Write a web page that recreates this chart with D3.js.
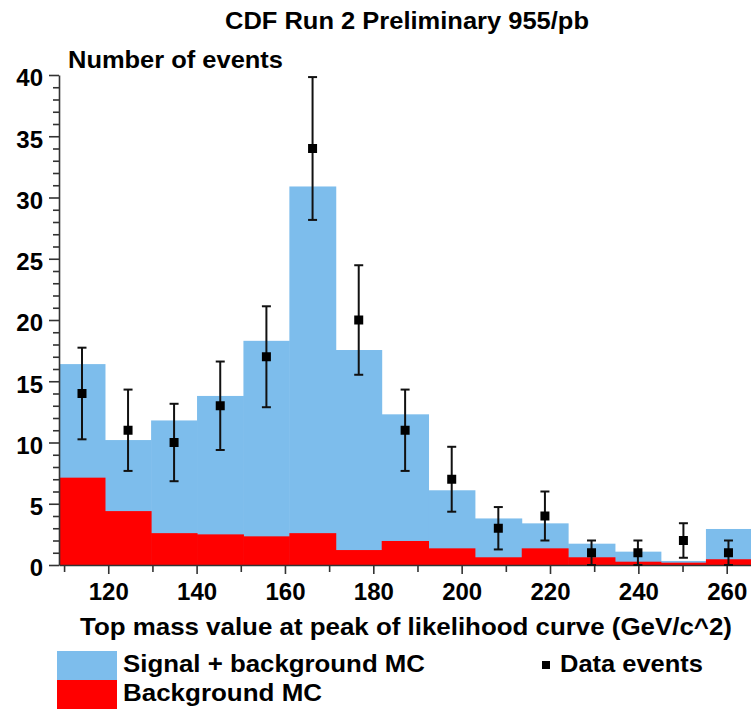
<!DOCTYPE html>
<html>
<head>
<meta charset="utf-8">
<script src="https://cdn.jsdelivr.net/npm/d3@7"></script>
<style>
  html, body { margin: 0; padding: 0; background: #fff; }
  svg { display: block; }
  text { font-family: "Liberation Sans", Arial, Helvetica, sans-serif; font-weight: bold; fill: #000; }
</style>
</head>
<body>
<div id="chart"></div>
<script>
// Histogram bin edges in top mass (GeV/c^2)
const binEdges = [108.85, 119.26, 129.7, 140.1, 150.6, 161.0, 171.5, 181.9, 192.5, 203.0, 213.6, 224.1, 234.7, 245.1, 255.3, 265.5];
// Signal + background MC expectation per bin
const signalPlusBkg = [16.4, 10.2, 11.8, 13.8, 18.3, 30.9, 17.55, 12.3, 6.1, 3.8, 3.4, 1.74, 1.09, 0.33, 2.94];
// Background MC expectation per bin
const backgroundMC = [7.13, 4.4, 2.6, 2.5, 2.34, 2.6, 1.22, 1.96, 1.36, 0.63, 1.36, 0.63, 0.27, 0.19, 0.47];
// Observed data events per bin and their uncertainties
const dataEvents = [14, 11, 10, 13, 17, 34, 20, 11, 7, 3, 4, 1, 1, 2, 1];
const dataErrors = [3.74, 3.32, 3.16, 3.61, 4.12, 5.83, 4.47, 3.32, 2.65, 1.73, 2.0, 1.0, 1.0, 1.41, 1.0];
// Axis ticks
const xMajorTicks = [120, 140, 160, 180, 200, 220, 240, 260];
const xMinorTicks = [110, 130, 150, 170, 190, 210, 230, 250];
const yMajorTicks = [0, 5, 10, 15, 20, 25, 30, 35, 40];
const yMinorTicks = d3.range(0, 41).filter(v => v % 5 !== 0);

const W = 751, H = 709;
const plot = { left: 59, right: 751, top: 75, bottom: 565 };

const svg = d3.select("#chart").append("svg")
  .attr("width", W).attr("height", H);

const x = d3.scaleLinear().domain([binEdges[0], binEdges[binEdges.length - 1]]).range([plot.left, plot.right]);
const y = d3.scaleLinear().domain([0, 40]).range([plot.bottom, plot.top]);

const bins = signalPlusBkg.map((v, i) => ({
  x0: binEdges[i], x1: binEdges[i + 1], total: v, bkg: backgroundMC[i],
  data: dataEvents[i], err: dataErrors[i]
}));

const blue = "#7dbdec", red = "#ff0000";

// Stacked MC histograms
svg.append("g").selectAll("rect").data(bins).join("rect")
  .attr("x", d => x(d.x0)).attr("width", d => x(d.x1) - x(d.x0) + 0.5)
  .attr("y", d => y(d.total)).attr("height", d => y(0) - y(d.total))
  .attr("fill", blue);
svg.append("g").selectAll("rect").data(bins).join("rect")
  .attr("x", d => x(d.x0)).attr("width", d => x(d.x1) - x(d.x0) + 0.5)
  .attr("y", d => y(d.bkg)).attr("height", d => y(0) - y(d.bkg))
  .attr("fill", red);

// Axes
const axisColor = "#333";
const yAxisMajor = svg.append("g").attr("transform", `translate(${plot.left},0)`)
  .call(d3.axisLeft(y).tickValues(yMajorTicks).tickSize(10).tickSizeOuter(0).tickPadding(6));
const yAxisMinor = svg.append("g").attr("transform", `translate(${plot.left},0)`)
  .call(d3.axisLeft(y).tickValues(yMinorTicks).tickSize(6).tickSizeOuter(0).tickFormat(""));
yAxisMinor.select(".domain").remove();
const xAxisMajor = svg.append("g").attr("transform", `translate(0,${plot.bottom})`)
  .call(d3.axisBottom(x).tickValues(xMajorTicks).tickSize(9).tickSizeOuter(0).tickPadding(9));
const xAxisMinor = svg.append("g").attr("transform", `translate(0,${plot.bottom})`)
  .call(d3.axisBottom(x).tickValues(xMinorTicks).tickSize(7).tickSizeOuter(0).tickFormat(""));
xAxisMinor.select(".domain").remove();

svg.selectAll(".domain, .tick line").attr("stroke", axisColor).attr("stroke-width", 1.6);
svg.selectAll(".tick text")
  .style("font-family", '"Liberation Sans", Arial, sans-serif')
  .style("font-weight", "bold").style("font-size", "24px").attr("fill", "#000");
yAxisMajor.selectAll(".tick text").attr("dy", "0.45em");

// Data points with error bars
const pts = svg.append("g");
const capHalf = 4.5;
bins.forEach(d => {
  const cx = x((d.x0 + d.x1) / 2);
  const lo = Math.max(0, d.data - d.err), hi = d.data + d.err;
  pts.append("line").attr("x1", cx).attr("x2", cx).attr("y1", y(lo)).attr("y2", y(hi))
    .attr("stroke", "#111").attr("stroke-width", 2);
  [lo, hi].forEach(v => {
    pts.append("line").attr("x1", cx - capHalf).attr("x2", cx + capHalf)
      .attr("y1", y(v)).attr("y2", y(v)).attr("stroke", "#111").attr("stroke-width", 2);
  });
  pts.append("rect").attr("x", cx - 4.5).attr("y", y(d.data) - 4.5)
    .attr("width", 9).attr("height", 9).attr("fill", "#000");
});

// Titles
function label(txt, xPos, yPos, size, len) {
  const t = svg.append("text").attr("x", xPos).attr("y", yPos)
    .style("font-size", size + "px").text(txt);
  if (len) t.attr("textLength", len).attr("lengthAdjust", "spacingAndGlyphs");
  return t;
}
label("CDF Run 2 Preliminary 955/pb", 225, 29, 24, 364);
label("Number of events", 68, 68, 24, 215);
label("Top mass value at peak of likelihood curve (GeV/c^2)", 80, 635, 24, 652);

// Legend
svg.append("rect").attr("x", 57).attr("y", 651).attr("width", 60).attr("height", 29).attr("fill", blue);
svg.append("rect").attr("x", 57).attr("y", 680).attr("width", 60).attr("height", 29).attr("fill", red);
label("Signal + background MC", 123, 672, 24, 302);
label("Background MC", 123, 701, 24, 199);
svg.append("rect").attr("x", 542).attr("y", 661).attr("width", 8).attr("height", 8).attr("fill", "#000");
label("Data events", 560, 672, 24, 143);
</script>
</body>
</html>
